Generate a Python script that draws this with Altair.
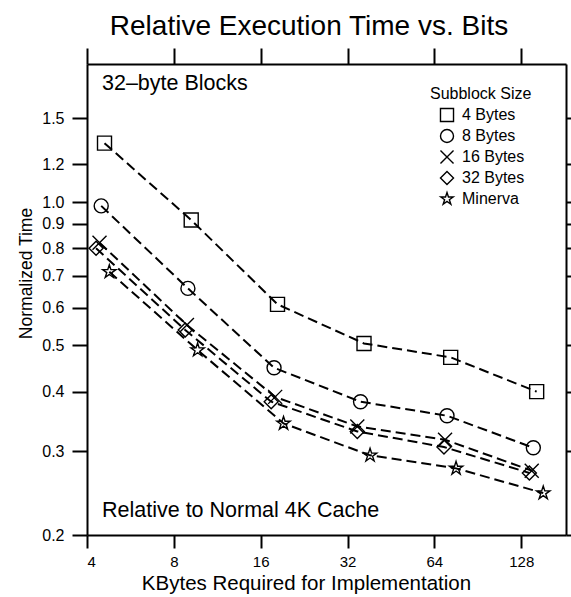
import altair as alt
import pandas as pd

# ---- data ----
series_names = ["4 Bytes", "8 Bytes", "16 Bytes", "32 Bytes", "Minerva"]

kb_4 = [4.60, 9.19, 18.3, 36.5, 72.9, 144.8]
t_4 = [1.33, 0.917, 0.610, 0.505, 0.472, 0.400]

kb_8 = [4.48, 8.95, 17.8, 35.5, 70.8, 141.0]
t_8 = [0.982, 0.659, 0.449, 0.381, 0.356, 0.305]

kb_16 = [4.42, 8.88, 17.96, 34.6, 69.7, 139.2]
t_16 = [0.822, 0.552, 0.390, 0.338, 0.317, 0.273]

kb_32 = [4.30, 8.76, 17.4, 34.6, 69.1, 136.6]
t_32 = [0.800, 0.539, 0.381, 0.330, 0.306, 0.270]

kb_min = [4.78, 9.67, 19.2, 38.3, 76.1, 152.6]
t_min = [0.714, 0.489, 0.343, 0.294, 0.276, 0.245]

x_ticks = [4, 8, 16, 32, 64, 128]
y_ticks = [0.2, 0.3, 0.4, 0.5, 0.6, 0.7, 0.8, 0.9, 1.0, 1.2, 1.5]

title_text = ["Relative Execution Time vs. Bits"]
note_top = ["32\u2013byte Blocks"]
note_bottom = ["Relative to Normal 4K Cache"]

rows = []
for name, xs, ys in zip(series_names,
                        [kb_4, kb_8, kb_16, kb_32, kb_min],
                        [t_4, t_8, t_16, t_32, t_min]):
    for xv, yv in zip(xs, ys):
        rows.append({"series": name, "kb": xv, "t": yv})
df = pd.DataFrame(rows)

FONT = "Liberation Sans"
X_PATH = "M-1,-1L1,1M-1,1L1,-1"
STAR_PATH = ("M0,-1L0.2245,-0.309L0.951,-0.309L0.363,0.118L0.588,0.809L0,0.382"
             "L-0.588,0.809L-0.363,0.118L-0.951,-0.309L-0.2245,-0.309Z")

x_scale = alt.Scale(type="log", base=2, domain=[4, 183], nice=False)
y_scale = alt.Scale(type="log", domain=[0.2, 1.95], nice=False)

base = alt.Chart(df)

lines = base.mark_line(color="black", strokeDash=[10, 5], strokeWidth=2).encode(
    x=alt.X("kb:Q", scale=x_scale,
            axis=alt.Axis(orient="bottom", values=x_ticks, format="d",
                          title="KBytes Required for Implementation",
                          tickSize=13, labelPadding=6, labelFontSize=15,
                          titleFontSize=20.5, titleX=219, titleY=54,
                          titleAlign="center", titleBaseline="alphabetic")),
    y=alt.Y("t:Q", scale=y_scale,
            axis=alt.Axis(orient="left", values=y_ticks, format=".1f",
                          title="Normalized Time",
                          tickSize=15, labelPadding=8, labelFontSize=16,
                          titleFontSize=17.5, titleAngle=270, titleX=-56, titleY=209,
                          titleAlign="center", titleBaseline="alphabetic")),
    detail="series:N",
    order="kb:Q",
)

points = base.mark_point(filled=False, color="black", strokeWidth=1.4, size=196, opacity=1).encode(
    x=alt.X("kb:Q", scale=x_scale,
            axis=alt.Axis(orient="top", values=x_ticks, labels=False, title="", tickSize=16)),
    y=alt.Y("t:Q", scale=y_scale,
            axis=alt.Axis(orient="right", values=y_ticks, labels=False, title="", tickSize=15)),
    shape=alt.Shape("series:N",
                    scale=alt.Scale(domain=series_names,
                                    range=["square", "circle", X_PATH, "diamond", STAR_PATH]),
                    legend=alt.Legend(title="Subblock Size", orient="none",
                                      legendX=343, legendY=22, padding=0,
                                      titleFontSize=16, titleFont=FONT, titleFontWeight="normal",
                                      titlePadding=5, labelFontSize=16, labelFont=FONT,
                                      symbolSize=170, symbolStrokeWidth=1.4,
                                      symbolStrokeColor="black", symbolOffset=9,
                                      labelOffset=7, rowPadding=1)),
)

title = alt.Chart(pd.DataFrame({"txt": title_text})).mark_text(
    align="center", baseline="alphabetic", fontSize=28, font=FONT, color="black"
).encode(text="txt:N", x=alt.value(222), y=alt.value(-29))

note1 = alt.Chart(pd.DataFrame({"txt": note_top})).mark_text(
    align="left", baseline="alphabetic", fontSize=21.5, font=FONT, color="black"
).encode(text="txt:N", x=alt.value(15), y=alt.value(26))

note2 = alt.Chart(pd.DataFrame({"txt": note_bottom})).mark_text(
    align="left", baseline="alphabetic", fontSize=21.5, font=FONT, color="black"
).encode(text="txt:N", x=alt.value(15), y=alt.value(453))

chart = alt.layer(lines, points, title, note1, note2).properties(
    width=479, height=471,
    autosize=alt.AutoSizeParams(type="none"),
    padding={"left": 87, "top": 64, "right": 5, "bottom": 62},
).configure_view(stroke="transparent").configure_axis(
    domainColor="black", domainWidth=2, tickColor="black", tickWidth=2,
    grid=False, labelColor="black", titleColor="black",
    labelFont=FONT, titleFont=FONT, titleFontWeight="normal",
).configure_legend(labelColor="black", titleColor="black")

chart.save("out.html", embed_options={"renderer": "svg", "actions": False})
